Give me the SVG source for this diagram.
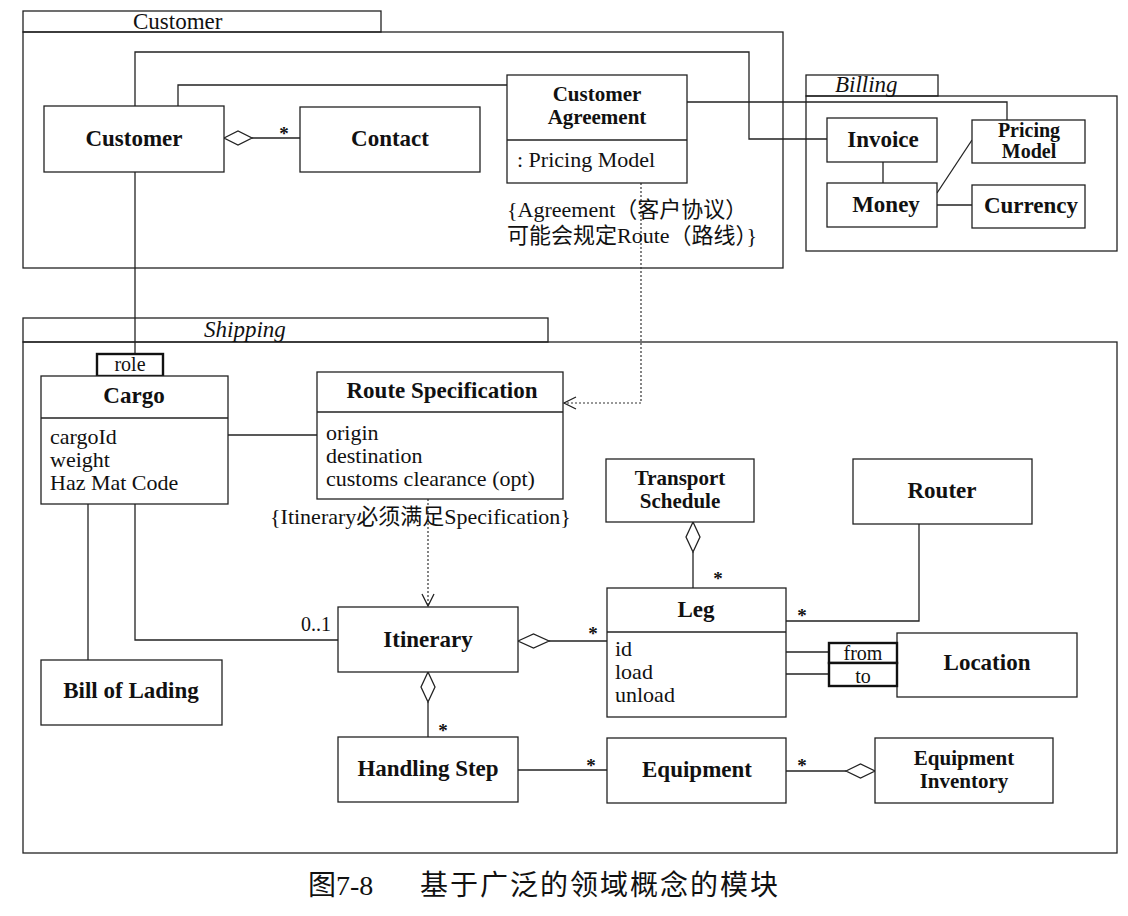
<svg xmlns="http://www.w3.org/2000/svg" width="1128" height="916" viewBox="0 0 1128 916">
  <style>
    .pkg { fill: none; stroke: #222; stroke-width: 1.3; }
    .box { fill: #fff; stroke: #222; stroke-width: 1.3; }
    .tag { fill: #fff; stroke: #111; stroke-width: 2.4; }
    .ln { fill: none; stroke: #222; stroke-width: 1.3; }
    .dot { fill: none; stroke: #333; stroke-width: 1.2; stroke-dasharray: 2 2; }
    .dia { fill: #fff; stroke: #222; stroke-width: 1.3; }
    text { font-family: "Liberation Serif", "Noto Sans CJK SC", serif; fill: #111; }
    .name { font-size: 23px; font-weight: bold; text-anchor: middle; }
    .name2 { font-size: 21px; font-weight: bold; text-anchor: middle; }
    .name3 { font-size: 20px; font-weight: bold; text-anchor: middle; }
    .attr { font-size: 22px; }
    .plbl { font-size: 23px; }
    .it { font-style: italic; }
    .mult { font-size: 19px; font-weight: bold; text-anchor: middle; }
    .small { font-size: 20px; text-anchor: middle; }
    .note { font-size: 22px; }
    .cap { font-size: 28px; }
  </style>

  <rect width="1128" height="916" fill="#fff"/>

  <!-- packages -->
  <g id="pkg-customer">
    <rect class="pkg" x="23" y="11" width="358" height="21"/>
    <rect class="pkg" x="23" y="32" width="760" height="236"/>
    <text class="plbl" x="133" y="29">Customer</text>
  </g>
  <g id="pkg-billing">
    <rect class="pkg" x="806" y="75" width="132" height="21"/>
    <rect class="pkg" x="806" y="96" width="311" height="155"/>
    <text class="plbl it" x="835" y="92">Billing</text>
  </g>
  <g id="pkg-shipping">
    <rect class="pkg" x="23" y="318" width="525" height="24"/>
    <rect class="pkg" x="23" y="342" width="1094" height="511"/>
    <text class="plbl it" x="204" y="337">Shipping</text>
  </g>

  <!-- connectors -->
  <g id="connectors">
    <path class="ln" d="M135 106 V52 H749 V139 H827"/>
    <path class="ln" d="M178 106 V85 H507"/>
    <path class="ln" d="M687 102 H1007 V120"/>
    <path class="ln" d="M252 138 H300"/>
    <path class="dia" d="M224 138 L238 131 L252 138 L238 145 Z"/>
    <path class="ln" d="M883 162 V183"/>
    <path class="ln" d="M937 193 L972 140"/>
    <path class="ln" d="M937 205 H972"/>
    <path class="ln" d="M135 172 V354"/>
    <path class="dot" d="M641 183 V403 H564"/>
    <path class="ln" d="M576 397 L564 403 L576 409"/>
    <path class="ln" d="M228 435 H317"/>
    <path class="dot" d="M428 499 V606"/>
    <path class="ln" d="M422 594 L428 606 L434 594"/>
    <path class="ln" d="M135 504 V640 H338"/>
    <path class="ln" d="M88 504 V660"/>
    <path class="ln" d="M549 641 H607"/>
    <path class="dia" d="M518 641 L533.5 634 L549 641 L533.5 648 Z"/>
    <path class="ln" d="M428 702 V737"/>
    <path class="dia" d="M428 672 L435 687 L428 702 L421 687 Z"/>
    <path class="ln" d="M693 552 V588"/>
    <path class="dia" d="M693 522 L700 537 L693 552 L686 537 Z"/>
    <path class="ln" d="M919 524 V621 H786"/>
    <path class="ln" d="M786 652 H829"/>
    <path class="ln" d="M786 674 H829"/>
    <path class="ln" d="M518 770 H607"/>
    <path class="ln" d="M786 771 H846"/>
    <path class="dia" d="M846 771 L860.5 764 L875 771 L860.5 778 Z"/>
    <text class="mult" x="284" y="140">*</text>
    <text class="mult" x="718" y="585">*</text>
    <text class="mult" x="802" y="622">*</text>
    <text class="mult" x="593" y="640">*</text>
    <text class="mult" x="443" y="737">*</text>
    <text class="mult" x="591" y="772">*</text>
    <text class="mult" x="802" y="772">*</text>
    <text class="small" x="316" y="631">0..1</text>
  </g>

  <!-- Customer package classes -->
  <g id="customer">
    <rect class="box" x="44" y="106" width="180" height="66"/>
    <text class="name" x="134" y="146">Customer</text>
  </g>
  <g id="contact">
    <rect class="box" x="300" y="107" width="180" height="65"/>
    <text class="name" x="390" y="146">Contact</text>
  </g>
  <g id="customer-agreement">
    <rect class="box" x="507" y="75" width="180" height="108"/>
    <line class="ln" x1="507" y1="140" x2="687" y2="140"/>
    <text class="name2" x="597" y="101">Customer</text>
    <text class="name2" x="597" y="124">Agreement</text>
    <text class="attr" x="517" y="167">: Pricing Model</text>
  </g>
  <g id="agreement-note">
    <text class="note" x="507" y="217">{Agreement（客户协议）</text>
    <text class="note" x="507" y="243">可能会规定Route（路线）}</text>
  </g>

  <!-- Billing package classes -->
  <g id="invoice">
    <rect class="box" x="827" y="118" width="110" height="44"/>
    <text class="name" x="883" y="147">Invoice</text>
  </g>
  <g id="pricing-model">
    <rect class="box" x="972" y="120" width="113" height="43"/>
    <text class="name3" x="1029" y="137">Pricing</text>
    <text class="name3" x="1029" y="158">Model</text>
  </g>
  <g id="money">
    <rect class="box" x="827" y="183" width="110" height="44"/>
    <text class="name" x="886" y="212">Money</text>
  </g>
  <g id="currency">
    <rect class="box" x="972" y="185" width="113" height="43"/>
    <text class="name" x="1031" y="213">Currency</text>
  </g>

  <!-- Shipping package classes -->
  <g id="role">
    <rect class="tag" x="97" y="354" width="66" height="22"/>
    <text class="small" x="130" y="371">role</text>
  </g>
  <g id="cargo">
    <rect class="box" x="41" y="376" width="187" height="128"/>
    <line class="ln" x1="41" y1="418" x2="228" y2="418"/>
    <text class="name" x="134" y="403">Cargo</text>
    <text class="attr" x="50" y="444">cargoId</text>
    <text class="attr" x="50" y="467">weight</text>
    <text class="attr" x="50" y="490">Haz Mat Code</text>
  </g>
  <g id="route-specification">
    <rect class="box" x="317" y="372" width="246" height="127"/>
    <line class="ln" x1="317" y1="412" x2="563" y2="412"/>
    <text class="name" x="442" y="398">Route Specification</text>
    <text class="attr" x="326" y="440">origin</text>
    <text class="attr" x="326" y="463">destination</text>
    <text class="attr" x="326" y="486">customs clearance (opt)</text>
  </g>
  <g id="itinerary-note">
    <text class="note" x="270" y="524">{Itinerary必须满足Specification}</text>
  </g>
  <g id="transport-schedule">
    <rect class="box" x="606" y="459" width="148" height="63"/>
    <text class="name2" x="680" y="485">Transport</text>
    <text class="name2" x="680" y="508">Schedule</text>
  </g>
  <g id="router">
    <rect class="box" x="853" y="459" width="179" height="65"/>
    <text class="name" x="942" y="498">Router</text>
  </g>
  <g id="leg">
    <rect class="box" x="607" y="588" width="179" height="129"/>
    <line class="ln" x1="607" y1="632" x2="786" y2="632"/>
    <text class="name" x="696" y="617">Leg</text>
    <text class="attr" x="615" y="656">id</text>
    <text class="attr" x="615" y="679">load</text>
    <text class="attr" x="615" y="702">unload</text>
  </g>
  <g id="location">
    <rect class="box" x="897" y="633" width="180" height="64"/>
    <text class="name" x="987" y="670">Location</text>
  </g>
  <g id="location-from">
    <rect class="tag" x="829" y="643" width="68" height="20"/>
    <text class="small" x="863" y="660">from</text>
  </g>
  <g id="location-to">
    <rect class="tag" x="829" y="663" width="68" height="23"/>
    <text class="small" x="863" y="683">to</text>
  </g>
  <g id="itinerary">
    <rect class="box" x="338" y="607" width="180" height="65"/>
    <text class="name" x="428" y="647">Itinerary</text>
  </g>
  <g id="bill-of-lading">
    <rect class="box" x="41" y="660" width="181" height="65"/>
    <text class="name" x="131" y="698">Bill of Lading</text>
  </g>
  <g id="handling-step">
    <rect class="box" x="338" y="737" width="180" height="65"/>
    <text class="name" x="428" y="776">Handling Step</text>
  </g>
  <g id="equipment">
    <rect class="box" x="607" y="738" width="179" height="65"/>
    <text class="name" x="697" y="777">Equipment</text>
  </g>
  <g id="equipment-inventory">
    <rect class="box" x="875" y="738" width="178" height="65"/>
    <text class="name2" x="964" y="765">Equipment</text>
    <text class="name2" x="964" y="788">Inventory</text>
  </g>

  <!-- figure caption -->
  <g id="caption">
    <text class="cap" x="308" y="895">图7-8</text>
    <text class="cap" x="420" y="895" letter-spacing="2">基于广泛的领域概念的模块</text>
  </g>
</svg>
